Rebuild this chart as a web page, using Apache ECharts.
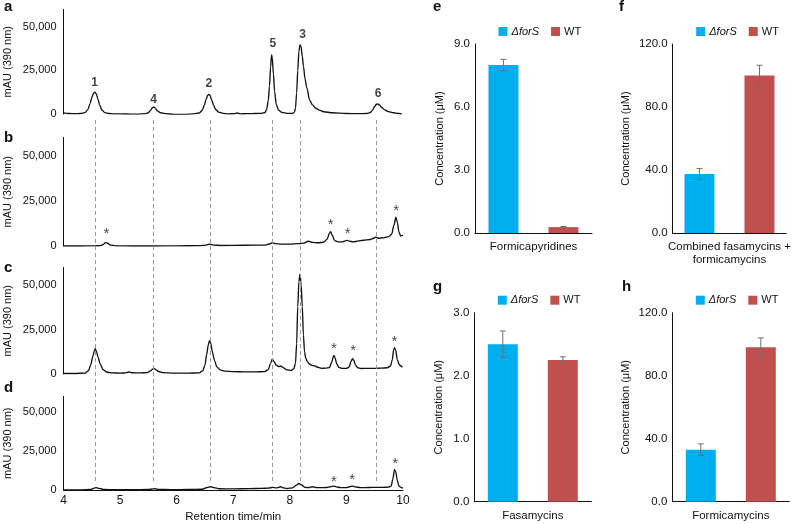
<!DOCTYPE html>
<html><head><meta charset="utf-8">
<script src="https://cdn.jsdelivr.net/npm/echarts@6.0.0/dist/echarts.min.js"></script>
<style>html,body{margin:0;padding:0;background:#fff}#c{width:794px;height:524px}</style>
</head><body><div id="c"></div><script>
// ---------- DATA ----------
const traceA = [[4.00,600],[4.10,300],[4.20,200],[4.30,300],[4.38,800],[4.43,2500],[4.47,6000],[4.50,9500],[4.53,12000],[4.555,12600],[4.58,11500],[4.61,8500],[4.64,5000],[4.68,2200],[4.73,800],[4.80,300],[4.90,100],[5.10,0],[5.30,-100],[5.45,200],[5.50,700],[5.54,2200],[5.57,3600],[5.595,4100],[5.62,3500],[5.66,1800],[5.71,700],[5.80,200],[5.95,-200],[6.15,-200],[6.30,100],[6.40,600],[6.45,2000],[6.49,5000],[6.52,8500],[6.55,10800],[6.57,11300],[6.59,10600],[6.62,8000],[6.65,5200],[6.69,2600],[6.74,1100],[6.82,400],[6.92,100],[7.02,200],[7.07,600],[7.12,100],[7.25,200],[7.40,300],[7.50,400],[7.56,800],[7.59,2500],[7.62,8000],[7.64,16000],[7.66,27000],[7.677,33900],[7.69,32000],[7.71,23000],[7.73,13000],[7.76,5500],[7.80,2200],[7.86,900],[7.95,400],[8.04,300],[8.08,900],[8.10,3500],[8.12,12000],[8.14,25000],[8.16,36000],[8.18,39700],[8.20,38500],[8.22,33000],[8.24,27500],[8.27,20000],[8.30,15000],[8.35,8000],[8.40,5200],[8.46,3300],[8.52,2200],[8.60,1300],[8.75,700],[9.00,300],[9.20,200],[9.36,300],[9.42,800],[9.46,2200],[9.50,4300],[9.53,5600],[9.55,5800],[9.58,5300],[9.62,3900],[9.67,2500],[9.74,1400],[9.83,700],[9.92,300],[9.98,100]];
const traceB = [[4.00,0],[4.30,0],[4.55,100],[4.65,200],[4.70,800],[4.74,1900],[4.78,1500],[4.83,500],[4.92,100],[5.20,0],[5.60,0],[6.00,100],[6.40,200],[6.52,500],[6.58,1000],[6.65,500],[6.80,300],[7.20,400],[7.55,500],[7.64,1100],[7.69,1800],[7.74,1300],[7.85,1000],[8.00,1000],[8.15,1300],[8.25,1600],[8.33,2600],[8.40,2000],[8.50,1800],[8.60,2100],[8.66,3800],[8.70,7200],[8.72,7900],[8.75,6000],[8.79,3000],[8.85,2300],[8.93,2300],[8.98,2800],[9.01,3100],[9.05,2700],[9.12,2300],[9.20,2700],[9.30,3200],[9.42,3600],[9.48,4300],[9.52,4900],[9.56,4300],[9.65,4500],[9.75,5200],[9.80,6500],[9.84,11500],[9.875,15900],[9.90,13000],[9.93,7500],[9.96,5500],[9.985,5800],[10.0,6000]];
const traceC = [[4.00,300],[4.20,300],[4.38,500],[4.44,1800],[4.48,5000],[4.52,10000],[4.545,13200],[4.56,14200],[4.58,13000],[4.61,9500],[4.65,5500],[4.70,2500],[4.76,1100],[4.85,600],[5.00,500],[5.10,600],[5.16,1100],[5.21,700],[5.35,600],[5.48,800],[5.54,1800],[5.58,2900],[5.60,3100],[5.63,2500],[5.68,1400],[5.76,800],[5.95,500],[6.20,500],[6.40,600],[6.46,1800],[6.50,5000],[6.53,11000],[6.56,16500],[6.58,18800],[6.60,17500],[6.63,12500],[6.67,7500],[6.71,4000],[6.77,2300],[6.86,1600],[7.00,1300],[7.20,1200],[7.40,1200],[7.55,1300],[7.62,2500],[7.66,6000],[7.69,8500],[7.72,7000],[7.76,5000],[7.80,4200],[7.84,4500],[7.88,3600],[7.95,2300],[8.03,2000],[8.07,3000],[8.10,6000],[8.12,17000],[8.14,38000],[8.16,52000],[8.18,56300],[8.20,50000],[8.22,38000],[8.24,22000],[8.26,12500],[8.28,9000],[8.31,7000],[8.35,5500],[8.40,4800],[8.44,4600],[8.50,3700],[8.56,3200],[8.63,3300],[8.70,3600],[8.74,6500],[8.77,10000],[8.78,10400],[8.80,9000],[8.83,5500],[8.87,3700],[8.92,3200],[9.00,3200],[9.05,4000],[9.08,7000],[9.11,8700],[9.13,7800],[9.16,5000],[9.20,3500],[9.26,3100],[9.40,3200],[9.50,3200],[9.60,3300],[9.72,3500],[9.78,4500],[9.81,8000],[9.835,13500],[9.85,14800],[9.87,13500],[9.90,8000],[9.93,5500],[9.96,4500],[9.99,3800]];
const traceD = [[4.00,0],[4.30,100],[4.48,300],[4.54,1200],[4.58,1500],[4.63,1000],[4.72,300],[4.90,200],[5.20,200],[5.50,300],[5.58,700],[5.62,800],[5.68,400],[5.90,200],[6.20,300],[6.45,500],[6.54,1600],[6.60,2100],[6.66,1500],[6.75,800],[7.00,700],[7.30,900],[7.50,1000],[7.62,1200],[7.70,1700],[7.76,1400],[7.84,2100],[7.88,1400],[7.95,900],[8.05,1400],[8.11,3000],[8.16,4200],[8.21,3200],[8.27,1700],[8.33,1500],[8.40,2100],[8.46,1600],[8.55,1500],[8.65,1600],[8.72,2000],[8.77,2500],[8.82,2000],[8.90,1500],[9.00,1500],[9.06,2100],[9.10,2500],[9.15,2000],[9.25,1500],[9.40,1600],[9.53,1700],[9.65,1700],[9.74,1800],[9.79,2500],[9.82,7000],[9.85,13000],[9.87,12000],[9.90,6000],[9.93,2500],[9.97,1500],[10.0,1200]];

const dashTimes = [4.56, 5.59, 6.59, 7.69, 8.18, 9.52];
const peakNames = ['1','4','2','5','3','6'];
const peakLabelPos = [[4.55,18200],[5.59,8050],[6.57,17250],[7.70,40100],[8.225,45800],[9.56,11900]];
const starsB = [[4.76,8400],[8.72,13100],[9.02,8100],[9.88,21100]];
const starsC = [[8.78,15900],[9.12,14600],[9.85,19900]];
const starsD = [[8.78,7200],[9.10,8250],[9.86,18600]];
const yTicksLeft = [0, 25000, 50000];

const barCategories = ['Formicapyridines', 'Combined fasamycins +\nformicamycins', 'Fasamycins', 'Formicamycins'];
const forSValues = [8.0, 37.5, 2.5, 33.0];
const forSErr = [0.27, 3.5, 0.21, 3.7];
const wtValues = [0.28, 100.0, 2.25, 98.0];
const wtErr = [0.03, 6.5, 0.05, 6.0];
const barYMax = [9, 120, 3, 120];
const barYStep = [3, 40, 1, 40];
const seriesNames = ['\u0394forS', 'WT'];

// ---------- LAYOUT ----------
const FONT = 'Liberation Sans, Arial, Helvetica, sans-serif';
const BLUE = '#00AEEF', RED = '#C0504D';
const leftBoxes = [{top:9.5,height:104.5},{top:137.5,height:108.5},{top:267.5,height:106.5},{top:396.5,height:95}];
const rightBoxes = [{left:475,top:44,yNameGap:30},{left:672.7,top:44,yNameGap:41},{left:474.3,top:312.7,yNameGap:30},{left:672.3,top:312.7,yNameGap:41}];
const BAR_W = 30;

const grid = [], xAxis = [], yAxis = [], series = [];
leftBoxes.forEach((b, i) => {
  grid.push({left:63.5, width:339.5, top:b.top, height:b.height});
  const isLast = i === 3;
  xAxis.push({type:'value', gridIndex:i, min:4, max:10, interval:1, show:isLast,
    axisLine:{show:isLast, onZero:false, lineStyle:{color:'#111', width:1}},
    axisTick:{show:false}, splitLine:{show:false},
    axisLabel:{fontSize:12, color:'#111', margin:5, fontFamily:FONT},
    name: isLast ? 'Retention time/min' : '', nameLocation:'middle', nameGap:21,
    nameTextStyle:{fontSize:11.5, color:'#111', fontFamily:FONT}});
  yAxis.push({type:'value', gridIndex:i, min:0, max:60000, interval:25000,
    axisLine:{show:true, lineStyle:{color:'#111', width:1}}, axisTick:{show:false}, splitLine:{show:false},
    axisLabel:{fontSize:11, color:'#111', margin:7, showMaxLabel:false, fontFamily:FONT,
      formatter: v => yTicksLeft.indexOf(v) >= 0 ? v.toLocaleString('en-US') : ''},
    name:'mAU (390 nm)', nameLocation:'middle', nameGap:50,
    nameTextStyle:{fontSize:11, color:'#111', fontFamily:FONT}});
});
// overlay grid for dashed guides
grid.push({left:63.5, width:339.5, top:117, height:364});
xAxis.push({type:'value', gridIndex:4, min:4, max:10, show:false});
yAxis.push({type:'value', gridIndex:4, min:0, max:1, show:false});

rightBoxes.forEach((b, k) => {
  const gi = 5 + k;
  grid.push({left:b.left, width:117, top:b.top, height:189});
  xAxis.push({type:'category', gridIndex:gi, data:[barCategories[k]],
    axisLine:{lineStyle:{color:'#111', width:1}}, axisTick:{show:false},
    axisLabel:{fontSize:11.5, color:'#111', margin:7, lineHeight:13.5, fontFamily:FONT}});
  yAxis.push({type:'value', gridIndex:gi, min:0, max:barYMax[k], interval:barYStep[k],
    axisLine:{show:true, lineStyle:{color:'#111', width:1}}, axisTick:{show:false}, splitLine:{show:false},
    axisLabel:{fontSize:11.5, color:'#111', margin:5, fontFamily:FONT, formatter: v => v.toFixed(1)},
    name:'Concentration (\u03bcM)', nameLocation:'middle', nameGap:b.yNameGap,
    nameTextStyle:{fontSize:11, color:'#111', fontFamily:FONT}});
});

// dashed guides
series.push({type:'line', xAxisIndex:4, yAxisIndex:4, data:[], silent:true, z:1,
  markLine:{symbol:['none','none'], silent:true, label:{show:false},
    lineStyle:{type:[4,3], color:'#9a9a9a', width:1},
    data: dashTimes.map(t => ({xAxis:t}))}});

// traces
[traceA, traceB, traceC, traceD].forEach((tr, i) => {
  series.push({type:'line', xAxisIndex:i, yAxisIndex:i, data:tr, showSymbol:false, symbol:'none',
    smooth:0.3, smoothMonotone:'x', lineStyle:{color:'#111', width:1.35}, z:3, silent:true});
});

const labelScatter = (gi, data, texts, style) => ({type:'scatter', xAxisIndex:gi, yAxisIndex:gi, symbolSize:0, silent:true, z:4,
  itemStyle:{color:'rgba(0,0,0,0)'},
  data: data.map((d, j) => ({value:d, label:{formatter: texts ? texts[j] : '*'}})),
  label:Object.assign({show:true, position:'inside', align:'center', verticalAlign:'middle', color:'#111', fontFamily:FONT}, style)});
series.push(labelScatter(0, peakLabelPos, peakNames, {fontSize:12, fontWeight:'bold'}));
series.push(labelScatter(1, starsB, null, {fontSize:15, offset:[0,3]}));
series.push(labelScatter(2, starsC, null, {fontSize:15, offset:[0,3]}));
series.push(labelScatter(3, starsD, null, {fontSize:15, offset:[0,3]}));

// bars
function renderErr(params, api) {
  const v = api.value(1), e = api.value(2), side = api.value(3);
  const hi = api.coord([0, v + e]), lo = api.coord([0, v - e]);
  const x = hi[0] + side * BAR_W, cap = 3;
  const st = {stroke:'#6f6f6f', lineWidth:1};
  return {type:'group', children:[
    {type:'line', shape:{x1:x, y1:hi[1], x2:x, y2:lo[1]}, style:st},
    {type:'line', shape:{x1:x-cap, y1:hi[1], x2:x+cap, y2:hi[1]}, style:st},
    {type:'line', shape:{x1:x-cap, y1:lo[1], x2:x+cap, y2:lo[1]}, style:st}]};
}
const legends = [];
rightBoxes.forEach((b, k) => {
  const gi = 5 + k;
  series.push({type:'bar', name:seriesNames[0], xAxisIndex:gi, yAxisIndex:gi, data:[forSValues[k]], barWidth:BAR_W, barGap:'100%', itemStyle:{color:BLUE}});
  series.push({type:'bar', name:seriesNames[1], xAxisIndex:gi, yAxisIndex:gi, data:[wtValues[k]], barWidth:BAR_W, barGap:'100%', itemStyle:{color:RED}});
  series.push({type:'custom', xAxisIndex:gi, yAxisIndex:gi, renderItem:renderErr, z:5, silent:true,
    encode:{x:0, y:1},
    data:[[0, forSValues[k], forSErr[k], -1], [0, wtValues[k], wtErr[k], 1]]});
  legends.push({left:b.left + 23.5, top:b.top - 18, itemWidth:9, itemHeight:9, itemGap:12, padding:0, icon:'rect',
    data:seriesNames, selectedMode:false,
    formatter: n => n === seriesNames[0] ? '{i|' + n + '}' : n,
    textStyle:{fontSize:11, color:'#111', fontFamily:FONT, padding:[0,0,0,-1],
      rich:{i:{fontStyle:'italic', fontSize:11, color:'#111', fontFamily:FONT}}}});
});

const letters = [['a',4,7],['b',4,138],['c',4,268],['d',4,388],['e',433,7],['f',619,7],['g',433,287],['h',622,287]];
const graphic = letters.map(l => ({type:'text', left:l[1], top:l[2] - 8, silent:true,
  style:{text:l[0], font:'bold 15px ' + FONT, fill:'#111'}}));

const chart = echarts.init(document.getElementById('c'), null, {renderer:'canvas'});
chart.setOption({animation:false, backgroundColor:'#fff', textStyle:{fontFamily:FONT},
  grid, xAxis, yAxis, series, legend:legends, graphic});
</script></body></html>
